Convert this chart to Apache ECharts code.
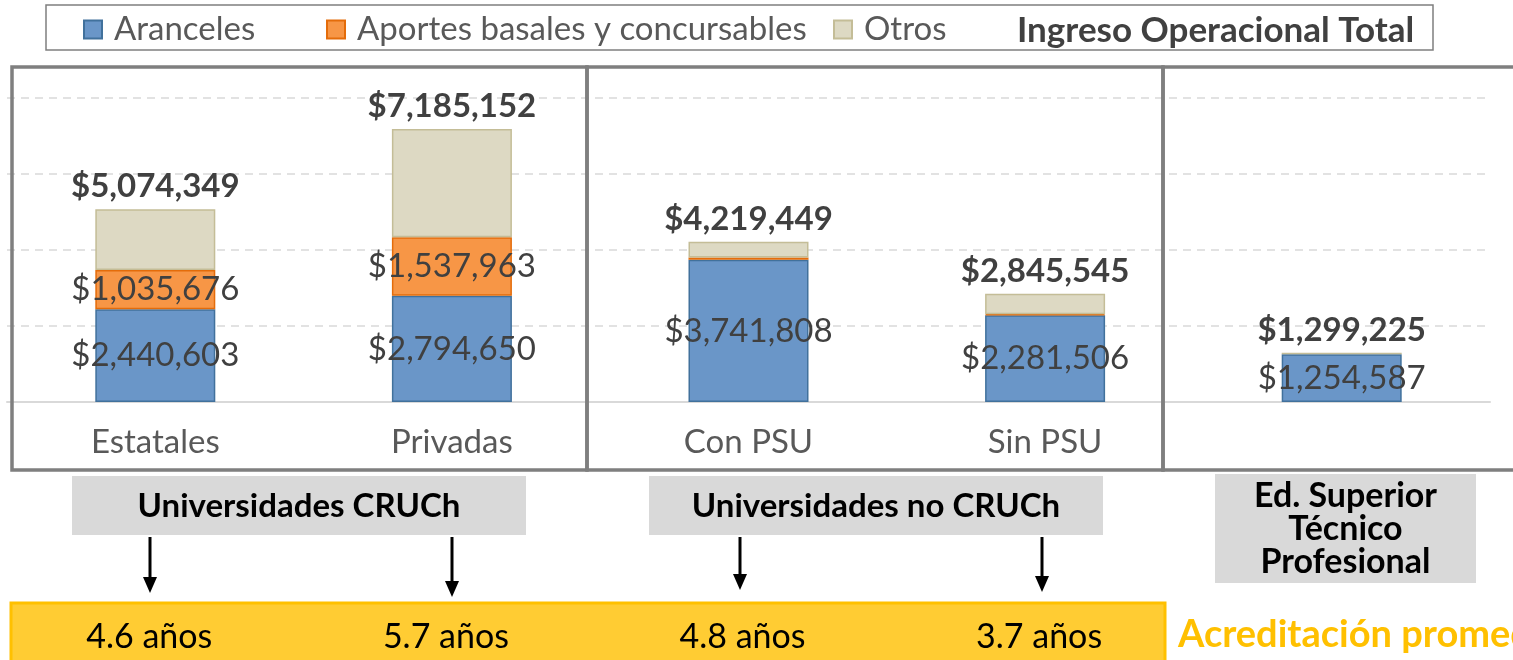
<!DOCTYPE html>
<html>
<head>
<meta charset="utf-8">
<script src="https://cdn.jsdelivr.net/npm/echarts@6/dist/echarts.min.js"></script>
<style>
html,body{margin:0;padding:0;background:#fff;}
#c{width:1513px;height:660px;}
</style>
</head>
<body>
<div id="c"></div>
<script>
var categories = ['Estatales', 'Privadas', 'Con PSU', 'Sin PSU', ''];
var aranceles = [2440603, 2794650, 3741808, 2281506, 1254587];
var aportes = [1035676, 1537963, 60000, 25000, 0];
var otros = [1598070, 2852539, 417641, 539039, 44638];
var totales = [5074349, 7185152, 4219449, 2845545, 1299225];
var acreditacion = ['4.6 años', '5.7 años', '4.8 años', '3.7 años'];
var grupos = ['Universidades CRUCh', 'Universidades no CRUCh', 'Ed. Superior\nTécnico\nProfesional'];
var seriesNames = ['Aranceles', 'Aportes basales y concursables', 'Otros', 'Ingreso Operacional Total'];
var yTicks = [0, 2000000, 4000000, 6000000, 8000000];

var FONT = 'Lato';
function fmt(v) { return '$' + v.toString().replace(/\B(?=(\d{3})+(?!\d))/g, ','); }
function nz(arr) { return arr.map(function (v) { return v === 0 ? '-' : v; }); }

var chart = echarts.init(document.getElementById('c'), null, {renderer: 'canvas'});

var legendLeft = [83, 326, 833, 987];
var legends = seriesNames.map(function (n, i) {
  var last = i === seriesNames.length - 1;
  return {
    left: legendLeft[i], top: 13, padding: 0,
    itemWidth: 18, itemHeight: 18,
    textStyle: {fontFamily: FONT, fontSize: 33, color: '#595959', padding: [0, 0, 0, 7]},
    data: [last ? {name: n, icon: 'none', textStyle: {fontWeight: 'bold', color: '#404040', fontSize: 35}}
                : {name: n, icon: 'rect'}]
  };
});

var option = {
  animation: false,
  textStyle: {fontFamily: FONT},
  legend: legends,
  grid: {left: 7, right: 23, top: 98, bottom: 258},
  xAxis: {
    type: 'category', data: categories,
    axisLine: {lineStyle: {color: '#d9d9d9', width: 2}},
    axisTick: {show: false},
    axisLabel: {fontFamily: FONT, fontSize: 33, color: '#595959', margin: 24}
  },
  yAxis: {
    type: 'value', min: yTicks[0], max: yTicks[yTicks.length - 1], interval: 2000000,
    axisLabel: {show: false}, axisLine: {show: false}, axisTick: {show: false},
    splitLine: {lineStyle: {color: '#d9d9d9', type: [8, 6], width: 1.5}}
  },
  series: [
    {
      name: seriesNames[0], type: 'bar', stack: 't', barWidth: 120, data: nz(aranceles),
      itemStyle: {color: '#6a96c8', borderColor: '#41719c', borderWidth: 1.5},
      label: {show: true, position: 'inside', fontFamily: FONT, fontSize: 33, color: '#404040',
              formatter: function (p) { return fmt(p.value); }}
    },
    {
      name: seriesNames[1], type: 'bar', stack: 't', data: nz(aportes),
      itemStyle: {color: '#f79646', borderColor: '#e46c0a', borderWidth: 1.5},
      label: {show: true, position: 'inside', fontFamily: FONT, fontSize: 33, color: '#404040',
              formatter: function (p) { return p.value > 500000 ? fmt(p.value) : ''; }}
    },
    {
      name: seriesNames[2], type: 'bar', stack: 't', data: nz(otros),
      itemStyle: {color: '#ddd9c3', borderColor: '#c4bd97', borderWidth: 1.5},
      label: {show: true, position: 'top', distance: 6, fontFamily: FONT, fontSize: 33,
              fontWeight: 'bold', color: '#404040',
              formatter: function (p) { return fmt(totales[p.dataIndex]); }}
    },
    {
      name: seriesNames[3], type: 'line', data: [],
      lineStyle: {opacity: 0}, symbol: 'none'
    }
  ]
};
chart.setOption(option);

var xs = categories.map(function (c, i) { return chart.convertToPixel({xAxisIndex: 0}, i); });

var g = [];
// legend frame
g.push({type: 'rect', shape: {x: 46, y: 5, width: 1387, height: 45},
        style: {fill: 'none', stroke: '#7f7f7f', lineWidth: 1.5}, z: 1});
// panel frames
var frameStyle = {fill: 'none', stroke: '#7f7f7f', lineWidth: 3.5};
g.push({type: 'rect', shape: {x: 12, y: 67, width: 575, height: 403}, style: frameStyle, z: 10});
g.push({type: 'rect', shape: {x: 587, y: 67, width: 576, height: 403}, style: frameStyle, z: 10});
g.push({type: 'rect', shape: {x: 1163, y: 67, width: 400, height: 403}, style: frameStyle, z: 10});
// group label boxes
var boxes = [
  {x: 72, y: 476, w: 454, h: 59, fs: 33},
  {x: 649, y: 476, w: 454, h: 59, fs: 33},
  {x: 1215, y: 474, w: 261, h: 109, fs: 34}
];
boxes.forEach(function (b, i) {
  g.push({type: 'rect', shape: {x: b.x, y: b.y, width: b.w, height: b.h},
          style: {fill: '#d9d9d9'}, z: 5});
  g.push({type: 'text', x: b.x + b.w / 2, y: b.y + b.h / 2 + 1, z: 6,
          style: {text: grupos[i], fontFamily: FONT, fontWeight: 'bold', fontSize: b.fs,
                  lineHeight: 33, fill: '#000', align: 'center', verticalAlign: 'middle'}});
});
// arrows
var arrowX = [150, 452, 740, 1042];
var arrowEnd = [593, 597, 590, 592];
arrowX.forEach(function (x, i) {
  g.push({type: 'line', shape: {x1: x, y1: 537, x2: x, y2: arrowEnd[i] - 14},
          style: {stroke: '#000', lineWidth: 3}, z: 6});
  g.push({type: 'polygon', shape: {points: [[x - 7, arrowEnd[i] - 16], [x + 7, arrowEnd[i] - 16], [x, arrowEnd[i]]]},
          style: {fill: '#000'}, z: 6});
});
// yellow band
g.push({type: 'rect', shape: {x: 11, y: 603, width: 1154, height: 62},
        style: {fill: '#ffcc33', stroke: '#ffc000', lineWidth: 3}, z: 5});
acreditacion.forEach(function (t, i) {
  g.push({type: 'text', x: xs[i] - 6, y: 637, z: 6,
          style: {text: t, fontFamily: FONT, fontSize: 34, fill: '#000',
                  align: 'center', verticalAlign: 'middle'}});
});
g.push({type: 'text', x: 1178, y: 635, z: 6,
        style: {text: 'Acreditación promedio', fontFamily: FONT, fontWeight: 'bold', fontSize: 38,
                fill: '#ffc000', align: 'left', verticalAlign: 'middle'}});

chart.setOption({graphic: g});
</script>
</body>
</html>
